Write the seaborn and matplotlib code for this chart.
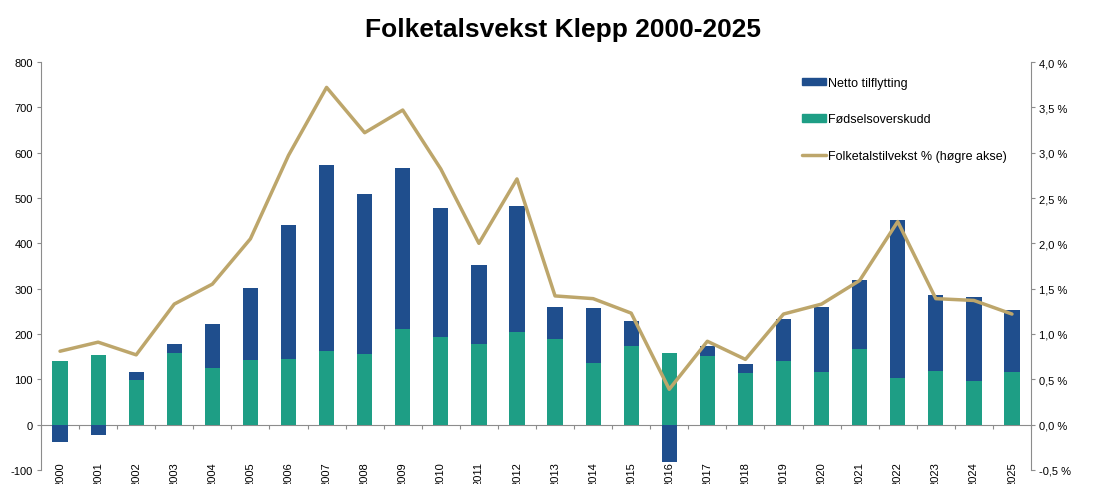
import numpy as np
import pandas as pd
import matplotlib
matplotlib.use('Agg')
import matplotlib.pyplot as plt
from matplotlib.patches import Patch
from matplotlib.lines import Line2D
from matplotlib.ticker import FuncFormatter, MultipleLocator
import seaborn as sns

# Data lese frå figuren
years = [str(y) for y in range(2000, 2026)]
fodselsoverskudd = [140, 153, 98, 157, 124, 143, 145, 163, 155, 212, 193, 179, 204,
                    189, 136, 174, 157, 151, 115, 141, 117, 167, 102, 119, 97, 117]
netto_tilflytting = [-39, -22, 18, 21, 98, 159, 296, 410, 354, 354, 286, 174, 278,
                     70, 121, 55, -83, 23, 19, 91, 143, 153, 350, 167, 185, 135]
vekst_pct = [0.81, 0.91, 0.77, 1.33, 1.55, 2.05, 2.97, 3.72, 3.22, 3.47, 2.82, 2.00, 2.71,
             1.42, 1.39, 1.23, 0.39, 0.92, 0.72, 1.22, 1.33, 1.59, 2.24, 1.39, 1.37, 1.22]

c_blue = '#1F4E8D'
c_green = '#1E9E85'
c_line = '#BDA66B'

df = pd.DataFrame({'aar': years, 'fodsel': fodselsoverskudd, 'netto': netto_tilflytting,
                   'vekst': vekst_pct})
# stabla søyler: positiv netto ligg oppå fødselsoverskotet, negativ under null
df['blaa'] = np.where(df['netto'] > 0, df['fodsel'] + df['netto'], df['netto'])
df['pos'] = np.arange(len(df))

sns.set_style('white')
plt.rcParams['font.family'] = ['Liberation Sans', 'DejaVu Sans']
plt.rcParams['axes.unicode_minus'] = False
plt.rcParams['text.color'] = 'black'
plt.rcParams['xtick.color'] = 'black'
plt.rcParams['ytick.color'] = 'black'

fig = plt.figure(figsize=(11.11, 4.85), dpi=100)
ax = fig.add_axes([41/1111, 1 - 471/485, 990/1111, 408/485])

sns.barplot(data=df, x='aar', y='blaa', color=c_blue, width=0.4, saturation=1,
            linewidth=0, ax=ax)
sns.barplot(data=df, x='aar', y='fodsel', color=c_green, width=0.4, saturation=1,
            linewidth=0, ax=ax)
ax.set_xlim(-0.5, len(df) - 0.5)
ax.set_ylim(-100, 800)
ax.yaxis.set_major_locator(MultipleLocator(100))
ax.set_xlabel('')
ax.set_ylabel('')

ax2 = ax.twinx()
sns.lineplot(data=df, x='pos', y='vekst', color=c_line, linewidth=2.5, ax=ax2)
ax2.set_ylim(-0.5, 4.0)
ax2.yaxis.set_major_locator(MultipleLocator(0.5))
ax2.yaxis.set_major_formatter(FuncFormatter(lambda v, p: f'{v:.1f} %'.replace('.', ',')))
ax2.set_xlabel('')
ax2.set_ylabel('')
ax2.set_xlim(-0.5, len(df) - 0.5)

for a in (ax, ax2):
    for s in ('top', 'bottom'):
        a.spines[s].set_visible(False)
ax.spines['right'].set_visible(False)
ax.spines['left'].set_color('#8c8c8c')
ax2.spines['left'].set_visible(False)
ax2.spines['right'].set_color('#8c8c8c')

ax.tick_params(axis='y', labelsize=8, length=3, width=0.8, color='#8c8c8c',
               labelcolor='black', pad=3, left=True)
ax2.tick_params(axis='y', labelsize=8, length=3, width=0.8, color='#8c8c8c',
                labelcolor='black', pad=3, right=True)
ax.tick_params(axis='x', labelsize=8, length=0, pad=-6.5, labelrotation=90,
               labelcolor='black')

# nulllinje med små merke mellom kategoriane
sec = ax.secondary_xaxis(100/900)
sec.set_xticks(np.arange(-0.5, len(df), 1))
sec.set_xticklabels([])
sec.spines['bottom'].set_color('#8c8c8c')
sec.tick_params(axis='x', length=3, width=0.8, color='#8c8c8c', direction='out')

handles = [Patch(color=c_blue, label='Netto tilflytting'),
           Patch(color=c_green, label='Fødselsoverskudd'),
           Line2D([], [], color=c_line, linewidth=2.5, label='Folketalstilvekst % (høgre akse)')]
ax2.legend(handles=handles, loc='upper left', bbox_to_anchor=(802/1111, 1 - 78/485),
           bbox_transform=fig.transFigure, frameon=False, fontsize=9, handlelength=1.9,
           handleheight=0.55, handletextpad=0.15, labelspacing=1.95, borderpad=0,
           borderaxespad=0)

fig.text(563/1111, 1 - 30/485, 'Folketalsvekst Klepp 2000-2025', ha='center', va='center',
         fontsize=19, fontweight='bold', color='black')

fig.savefig('out.png', dpi=100)
